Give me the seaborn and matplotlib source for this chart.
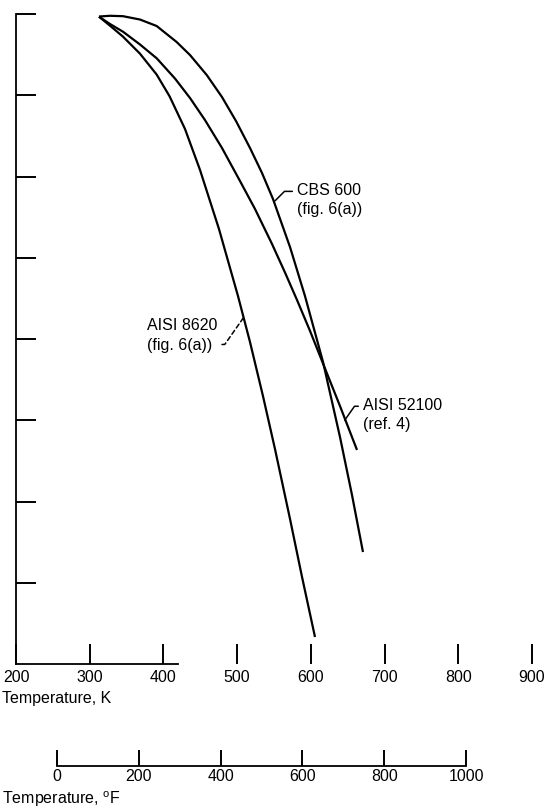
import numpy as np
import pandas as pd
import matplotlib
matplotlib.use("Agg")
import matplotlib.pyplot as plt
import seaborn as sns

# ---- data (temperature in K, relative value in tick units) ----
cbs_T = [312.6, 327.5, 345.2, 368.2, 390.9, 418.0, 436.1, 458.8, 479.5, 498.5,
         517.5, 533.8, 548.7, 571.8, 592.1, 616.6, 639.6, 655.9, 670.8]
cbs_v = [7.969, 7.978, 7.973, 7.932, 7.852, 7.655, 7.495, 7.249, 6.978, 6.683,
         6.351, 6.043, 5.723, 5.132, 4.529, 3.717, 2.794, 2.080, 1.378]

a52100_T = [312.6, 327.5, 345.2, 368.2, 390.9, 415.7, 436.1, 456.4, 479.5, 503.9,
            524.3, 547.4, 565.0, 581.3, 599.0, 616.6, 639.6, 662.7]
a52100_v = [7.967, 7.877, 7.782, 7.625, 7.455, 7.206, 6.966, 6.695, 6.351, 5.945,
            5.600, 5.169, 4.818, 4.480, 4.098, 3.698, 3.175, 2.634]

a8620_T = [312.6, 328.9, 345.2, 368.2, 390.9, 408.5, 429.3, 449.7, 475.4, 501.2,
           517.5, 535.1, 551.4, 571.8, 588.1, 605.7]
a8620_v = [7.967, 7.846, 7.721, 7.512, 7.254, 6.985, 6.585, 6.080, 5.354, 4.529,
           3.963, 3.298, 2.646, 1.785, 1.071, 0.332]

k_ticks = [200, 300, 400, 500, 600, 700, 800, 900]
f_ticks = [0, 200, 400, 600, 800, 1000]
y_ticks = [1, 2, 3, 4, 5, 6, 7, 8]

labels = ["CBS 600\n(fig. 6(a))", "AISI 52100\n(ref. 4)", "AISI 8620\n(fig. 6(a))"]

df = pd.concat([
    pd.DataFrame({"T": cbs_T, "v": cbs_v, "material": "CBS 600"}),
    pd.DataFrame({"T": a52100_T, "v": a52100_v, "material": "AISI 52100"}),
    pd.DataFrame({"T": a8620_T, "v": a8620_v, "material": "AISI 8620"}),
], ignore_index=True)


def k2f(k):
    return (k - 273.15) * 9.0 / 5.0 + 32.0


sns.set_style("white")
plt.rcParams["font.family"] = ["Liberation Sans", "DejaVu Sans"]
plt.rcParams["mathtext.fontset"] = "custom"
plt.rcParams["mathtext.rm"] = "Liberation Sans"
plt.rcParams["text.color"] = "black"
plt.rcParams["xtick.color"] = "black"
plt.rcParams["ytick.color"] = "black"
plt.rcParams["lines.solid_capstyle"] = "butt"
plt.rcParams["lines.solid_joinstyle"] = "round"

FS = 11.5
W_PX, H_PX = 552, 809
fig = plt.figure(figsize=(W_PX / 100, H_PX / 100), dpi=100)

xlim = (200, 910)
px_per_k = 0.737
L = 16 / W_PX
B = (H_PX - 664) / H_PX
W = px_per_k * (xlim[1] - xlim[0]) / W_PX
H = 650 / H_PX
ax = fig.add_axes([L, B, W, H])

sns.lineplot(data=df, x="T", y="v", hue="material", palette=["black"] * 3,
             estimator=None, sort=False, legend=False, linewidth=1.6, ax=ax)

ax.set_xlim(*xlim)
ax.set_ylim(0, 8)
for s in ["top", "right"]:
    ax.spines[s].set_visible(False)
for s in ["left", "bottom"]:
    ax.spines[s].set_color("black")
    ax.spines[s].set_linewidth(1.3)
ax.spines["bottom"].set_bounds(200, 420)
ax.set_xticks(k_ticks)
ax.set_xticklabels([str(t) for t in k_ticks])
ax.set_yticks(y_ticks)
ax.set_yticklabels([])
ax.tick_params(axis="x", which="major", bottom=True, direction="in", length=14.4,
               width=1.4, pad=4, labelsize=FS, colors="black")
ax.tick_params(axis="y", which="major", left=True, direction="in", length=14.4,
               width=1.4, labelleft=False, colors="black")
ax.set_xlabel("")
ax.set_ylabel("")
ax.patch.set_alpha(0)

# secondary Fahrenheit scale
ax2 = fig.add_axes([L, (H_PX - 766) / H_PX, W, 1e-4])
ax2.set_xlim(k2f(xlim[0]), k2f(xlim[1]))
ax2.set_ylim(0, 1)
for s in ["top", "right", "left"]:
    ax2.spines[s].set_visible(False)
ax2.spines["bottom"].set_color("black")
ax2.spines["bottom"].set_linewidth(1.3)
ax2.spines["bottom"].set_bounds(0, 1000)
ax2.set_xticks(f_ticks)
ax2.set_xticklabels([str(t) for t in f_ticks])
ax2.set_yticks([])
ax2.tick_params(axis="x", which="major", bottom=True, direction="in", length=11.5,
                width=1.4, pad=2, labelsize=FS, colors="black")
ax2.tick_params(axis="y", left=False)
ax2.patch.set_alpha(0)

fig.text(2 / W_PX, 1 - 698 / H_PX, "Temperature, K", ha="left", va="center", fontsize=FS)
fig.text(2 / W_PX, 1 - 799 / H_PX, "Temperature, $^{\\mathrm{o}}$F", ha="left", va="center",
         fontsize=FS)

common = dict(ha="left", va="center", fontsize=FS, linespacing=1.4)
ax.annotate(labels[0], xy=(551.4, 5.70), xytext=(581.3, 5.71),
            arrowprops=dict(arrowstyle="-", lw=1.1, color="black", relpos=(0, 0.75),
                            shrinkA=1, shrinkB=0,
                            connectionstyle="angle,angleA=0,angleB=45,rad=0"),
            **common)
ax.annotate(labels[1], xy=(646.0, 3.0), xytext=(670.8, 3.065),
            arrowprops=dict(arrowstyle="-", lw=1.1, color="black", relpos=(0, 0.75),
                            shrinkA=1, shrinkB=0,
                            connectionstyle="angle,angleA=0,angleB=55,rad=0"),
            **common)
ax.annotate(labels[2], xy=(508.5, 4.26), xytext=(377.7, 4.04),
            arrowprops=dict(arrowstyle="-", lw=1.1, color="black", relpos=(1, 0.25),
                            shrinkA=1, shrinkB=0, linestyle=(0, (3, 2)),
                            connectionstyle="angle,angleA=0,angleB=55,rad=0"),
            **common)

fig.savefig("out.png", dpi=100)
